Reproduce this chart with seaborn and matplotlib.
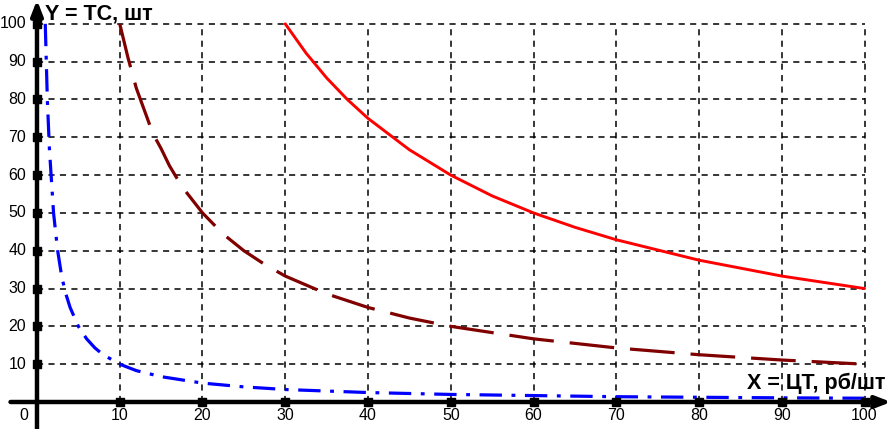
import matplotlib
matplotlib.use("Agg")
import matplotlib.pyplot as plt
import seaborn as sns

# values
ticks = [10, 20, 30, 40, 50, 60, 70, 80, 90, 100]

blue_x = [1, 1.25, 1.5, 2, 2.5, 3, 3.5, 4, 5, 6, 7, 8, 10, 12, 15, 20, 25, 30, 40, 50, 60, 70, 80, 90, 100]
blue_y = [100, 80, 67, 50, 40, 33, 28.5, 25, 20, 16.7, 14.3, 12.5, 10, 8.3, 6.7, 5, 4, 3.3, 2.5, 2, 1.7, 1.4, 1.25, 1.1, 1]

maroon_x = [10, 11, 12, 13, 14, 15, 16, 17.5, 20, 22.5, 25, 27.5, 30, 35, 40, 45, 50, 60, 70, 80, 90, 100]
maroon_y = [100, 91, 83, 77, 71, 67, 62.5, 57, 50, 44.4, 40, 36.4, 33.3, 28.6, 25, 22.2, 20, 16.7, 14.3, 12.5, 11.1, 10]

red_x = [30, 32.5, 35, 37.5, 40, 45, 50, 55, 60, 65, 70, 80, 90, 100]
red_y = [100, 92.3, 85.7, 80, 75, 66.7, 60, 54.5, 50, 46.2, 42.9, 37.5, 33.3, 30]

sns.set_style("white")
plt.rcParams["font.family"] = ["Liberation Sans", "DejaVu Sans"]
plt.rcParams["text.color"] = "black"

fig = plt.figure(figsize=(8.91, 4.29), dpi=100)
ax = fig.add_axes([0, 0, 1, 1])
ax.set_xlim(-4.47, 103.2)
ax.set_ylim(-7.14, 106.3)
ax.axis("off")

# dashed grid bounded by 0..100
for t in ticks:
    ax.plot([0, 100], [t, t], color="black", lw=1.1, ls=(0, (4, 3.5)), zorder=1)
    ax.plot([t, t], [0, 100], color="black", lw=1.1, ls=(0, (4, 3.5)), zorder=1)

# curves
sns.lineplot(x=blue_x, y=blue_y, ax=ax, color="#0000ff", lw=2.3,
             linestyle=(0, (7, 3, 1.2, 3)), sort=False, zorder=3)
sns.lineplot(x=maroon_x, y=maroon_y, ax=ax, color="#800000", lw=2.3,
             linestyle=(0, (14, 5)), sort=False, zorder=3)
sns.lineplot(x=red_x, y=red_y, ax=ax, color="#ff0000", lw=2.1,
             sort=False, zorder=3)

# axes with arrows
ax.annotate("", xy=(103.2, 0), xytext=(-3.2, 0),
            arrowprops=dict(arrowstyle="-|>,head_length=0.9,head_width=0.35",
                            color="black", lw=3.2, shrinkA=0, shrinkB=0), zorder=4)
ax.annotate("", xy=(0, 106.3), xytext=(0, -7.14),
            arrowprops=dict(arrowstyle="-|>,head_length=0.9,head_width=0.35",
                            color="black", lw=3.2, shrinkA=0, shrinkB=0), zorder=4)

# tick squares
ax.scatter(ticks, [0] * len(ticks), marker="s", s=30, color="black", zorder=5)
ax.scatter([0] * len(ticks), ticks, marker="s", s=30, color="black", zorder=5)

# tick labels
for t in ticks:
    ax.text(t, -3.6, str(t), ha="center", va="center", fontsize=11.5)
    ax.text(-1.3, t, str(t), ha="right", va="center", fontsize=11.5)
ax.text(-1.0, -3.6, "0", ha="right", va="center", fontsize=11.5)

# axis titles
ax.text(0.95, 102.6, "Y = ТС, шт", ha="left", va="center", fontsize=15.5,
        fontweight="bold")
ax.text(102.5, 5.0, "X = ЦТ, рб/шт", ha="right", va="center", fontsize=15.5,
        fontweight="bold")

fig.savefig("out.png", dpi=100)
